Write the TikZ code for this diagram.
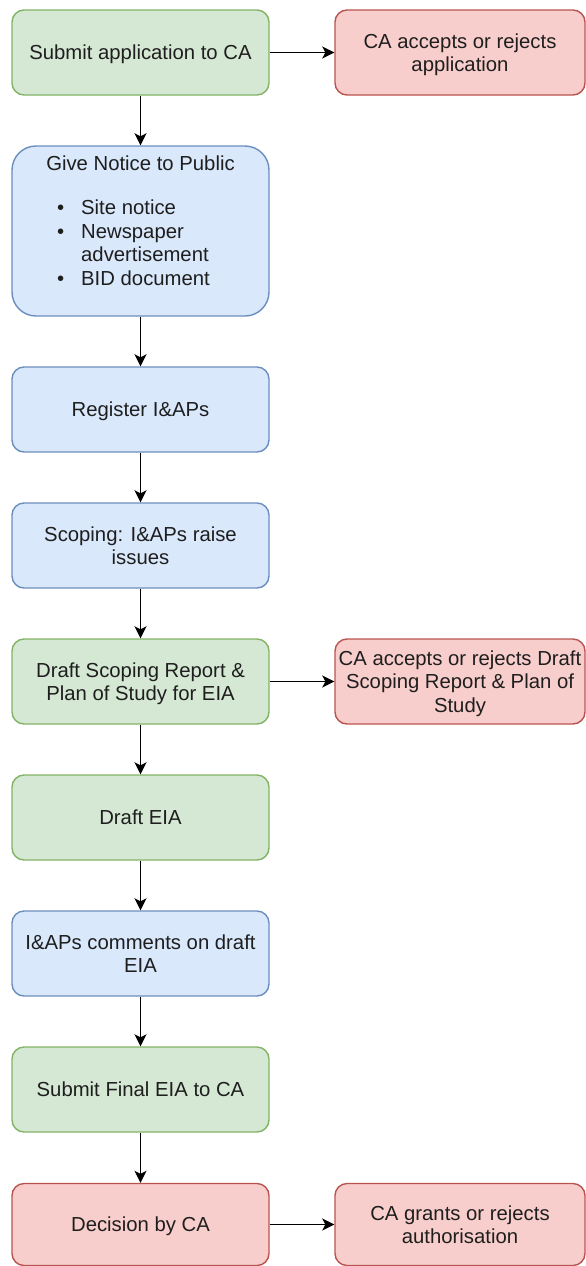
\documentclass[tikz,border=0pt]{standalone}
\usepackage{fontspec}
\setmainfont{Liberation Sans}
\usetikzlibrary{arrows.meta}
\definecolor{gfill}{HTML}{D5E8D4}\definecolor{gdraw}{HTML}{82B366}
\definecolor{bfill}{HTML}{DAE8FC}\definecolor{bdraw}{HTML}{6C8EBF}
\definecolor{rfill}{HTML}{F8CECC}\definecolor{rdraw}{HTML}{B85450}
\definecolor{txt}{HTML}{1E1E1E}
\newcommand{\boxfont}{\fontsize{20.3}{23.5}\selectfont}
\tikzset{
  x=1pt, y=1pt,
  flowbox/.style={rounded corners=12pt, draw, line width=1.4pt, minimum height=85pt,
    align=center, font=\boxfont, text=txt, inner sep=0pt, text depth=0pt},
  leftbox/.style={flowbox, minimum width=257pt},
  rightbox/.style={flowbox, minimum width=250pt},
  gbox/.style={fill=gfill, draw=gdraw},
  bbox/.style={fill=bfill, draw=bdraw},
  rbox/.style={fill=rfill, draw=rdraw},
  conn/.style={line width=1.6pt, -{Stealth[length=12pt,width=12pt,inset=3pt]}},
}
\begin{document}
\begin{tikzpicture}
\useasboundingbox (0,0) rectangle (586,-1266);
% left column
\node[leftbox,gbox] (submit) at (140.5,-52.5) {Submit application to CA};
\node[leftbox,bbox,minimum height=170pt,rounded corners=24pt] (notice) at (140.5,-231) {};
\node[font=\boxfont, text=txt, inner sep=0pt, text depth=0pt] (noticeT) at (140.5,-163) {Give Notice to Public};
\node[font=\boxfont, text=txt, inner sep=0pt, anchor=base west] (noticeL) at (57,-214.5)
  {\begin{tabular}[t]{@{}p{24pt}@{}l@{}}\textbullet & Site notice\\ \textbullet & Newspaper\\ & advertisement\\ \textbullet & BID document\end{tabular}};
\node[leftbox,bbox] (register) at (140.5,-409.5) {Register I\&APs};
\node[leftbox,bbox] (scoping) at (140.5,-545.5) {Scoping: I\&APs raise\\issues};
\node[leftbox,gbox] (dscoping) at (140.5,-681.5) {Draft Scoping Report \&\\Plan of Study for EIA};
\node[leftbox,gbox] (deia) at (140.5,-817.5) {Draft EIA};
\node[leftbox,bbox] (comments) at (140.5,-953.5) {I\&APs comments on draft\\EIA};
\node[leftbox,gbox] (final) at (140.5,-1089.5) {Submit Final EIA to CA};
\node[leftbox,rbox,minimum height=82pt] (decision) at (140.5,-1224.5) {Decision by CA};
% right column
\node[rightbox,rbox] (accept1) at (460,-52.5) {CA accepts or rejects\\application};
\node[rightbox,rbox] (accept2) at (460,-681.5) {CA accepts or rejects Draft\\Scoping Report \& Plan of\\Study};
\node[rightbox,rbox,minimum height=82pt] (grant) at (460,-1224.5) {CA grants or rejects\\authorisation};
% connectors
\draw[conn] (submit) -- (notice);
\draw[conn] (notice) -- (register);
\draw[conn] (register) -- (scoping);
\draw[conn] (scoping) -- (dscoping);
\draw[conn] (dscoping) -- (deia);
\draw[conn] (deia) -- (comments);
\draw[conn] (comments) -- (final);
\draw[conn] (final) -- (decision);
\draw[conn] (submit) -- (accept1);
\draw[conn] (dscoping) -- (accept2);
\draw[conn] (decision) -- (grant);
\end{tikzpicture}
\end{document}
